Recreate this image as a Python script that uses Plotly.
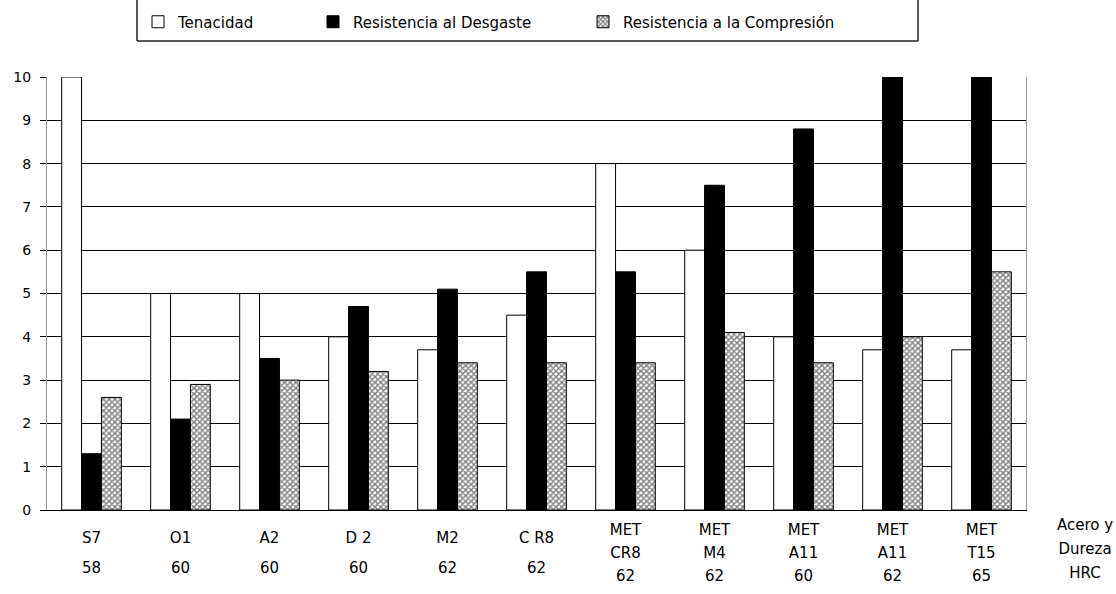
import plotly.graph_objects as go

# Steel grades and their hardness (HRC)
aceros = ["S7", "O1", "A2", "D 2", "M2", "C R8",
          "MET CR8", "MET M4", "MET A11", "MET A11", "MET T15"]
dureza = [58, 60, 60, 60, 62, 62, 62, 62, 60, 62, 65]

# Property ratings (0-10 scale)
tenacidad = [10, 5, 5, 4, 3.7, 4.5, 8, 6, 4, 3.7, 3.7]
desgaste = [1.3, 2.1, 3.5, 4.7, 5.1, 5.5, 5.5, 7.5, 8.8, 10, 10]
compresion = [2.6, 2.9, 3.0, 3.2, 3.4, 3.4, 3.4, 4.1, 3.4, 4.0, 5.5]

series = ["Tenacidad", "Resistencia al Desgaste", "Resistencia a la Compresión"]
y_ticks = list(range(0, 11))

FONT = "DejaVu Sans"
W, H = 1116, 594
ML, MR, MT, MB = 47, 90, 77, 84
PW, PH = W - ML - MR, H - MT - MB

# tick labels use a tiny base size so each <br> is a small line step,
# and the visible text is sized through a span
LABEL_PX = 15


def etiqueta(acero, hrc):
    partes = ["MET", acero[4:]] if acero.startswith("MET ") else [acero]
    partes.append(str(hrc))
    spans = [f'<span style="font-size:{LABEL_PX}px">{p}</span>' for p in partes]
    if len(partes) == 3:
        return ("<br>" * 3).join(spans)
    return "<br>" + ("<br>" * 4).join(spans)


x = list(range(len(aceros)))
ticktext = [etiqueta(a, h) for a, h in zip(aceros, dureza)]


def px_x(p):
    return (p - ML) / PW


def px_y(p):
    return (H - MB - p) / PH


fig = go.Figure()
fig.add_trace(go.Bar(
    x=x, y=tenacidad, name=series[0], legend="legend",
    marker=dict(color="white", line=dict(color="black", width=1)),
))
fig.add_trace(go.Bar(
    x=x, y=desgaste, name=series[1], legend="legend2",
    marker=dict(color="black", line=dict(color="black", width=1)),
))
fig.add_trace(go.Bar(
    x=x, y=compresion, name=series[2], legend="legend3",
    marker=dict(color="white", line=dict(color="black", width=1),
                pattern=dict(shape="x", fgcolor="black", bgcolor="white",
                             size=4, solidity=0.6)),
))

legend_base = dict(orientation="h", xanchor="left", yanchor="middle",
                   y=px_y(22), bgcolor="rgba(0,0,0,0)", borderwidth=0,
                   itemwidth=30, font=dict(family=FONT, size=15, color="black"))

# legend frame: left, bottom and right sides only, reaching the top edge
fx0, fx1, fy0, fy1 = px_x(137), px_x(918), px_y(41), px_y(0)
frame_sides = [
    (fx0, fy1, fx0, fy0),
    (fx0, fy0, fx1, fy0),
    (fx1, fy0, fx1, fy1),
]

fig.update_layout(
    width=W, height=H,
    margin=dict(l=ML, r=MR, t=MT, b=MB, autoexpand=False),
    paper_bgcolor="white", plot_bgcolor="white",
    barmode="group", bargap=0.33, bargroupgap=0,
    font=dict(family=FONT, color="black"),
    showlegend=True,
    legend=dict(legend_base, x=px_x(138)),
    legend2=dict(legend_base, x=px_x(313)),
    legend3=dict(legend_base, x=px_x(583)),
    xaxis=dict(
        range=[-0.5, len(aceros) - 0.5],
        tickmode="array", tickvals=x, ticktext=ticktext, tickangle=0,
        tickfont=dict(family=FONT, size=5.85, color="black"),
        ticks="", showgrid=False, zeroline=False,
        showline=True, linecolor="black", linewidth=1,
        ticklabelstandoff=17,
    ),
    yaxis=dict(
        range=[0, 10], tickmode="array", tickvals=y_ticks,
        tickfont=dict(family=FONT, size=14, color="black"),
        ticks="outside", ticklen=6, tickcolor="black", tickwidth=1,
        showgrid=True, gridcolor="black", gridwidth=1, zeroline=False,
        showline=True, linecolor="#999999", linewidth=1, mirror=True,
        ticklabelstandoff=6,
    ),
    shapes=[
        dict(type="line", xref="paper", yref="paper",
             x0=a, y0=b, x1=c, y1=d, line=dict(color="#222222", width=1.5))
        for a, b, c, d in frame_sides
    ],
    annotations=[
        dict(xref="paper", yref="paper", x=px_x(1085), y=px_y(549),
             xanchor="center", yanchor="middle", showarrow=False, align="center",
             text=("<br>".join(f'<span style="font-size:15px">{t}</span>'
                               for t in ["Acero y", "Dureza", "HRC"])),
             font=dict(family=FONT, size=18.5, color="black")),
    ],
)

fig.write_html("out.html")
